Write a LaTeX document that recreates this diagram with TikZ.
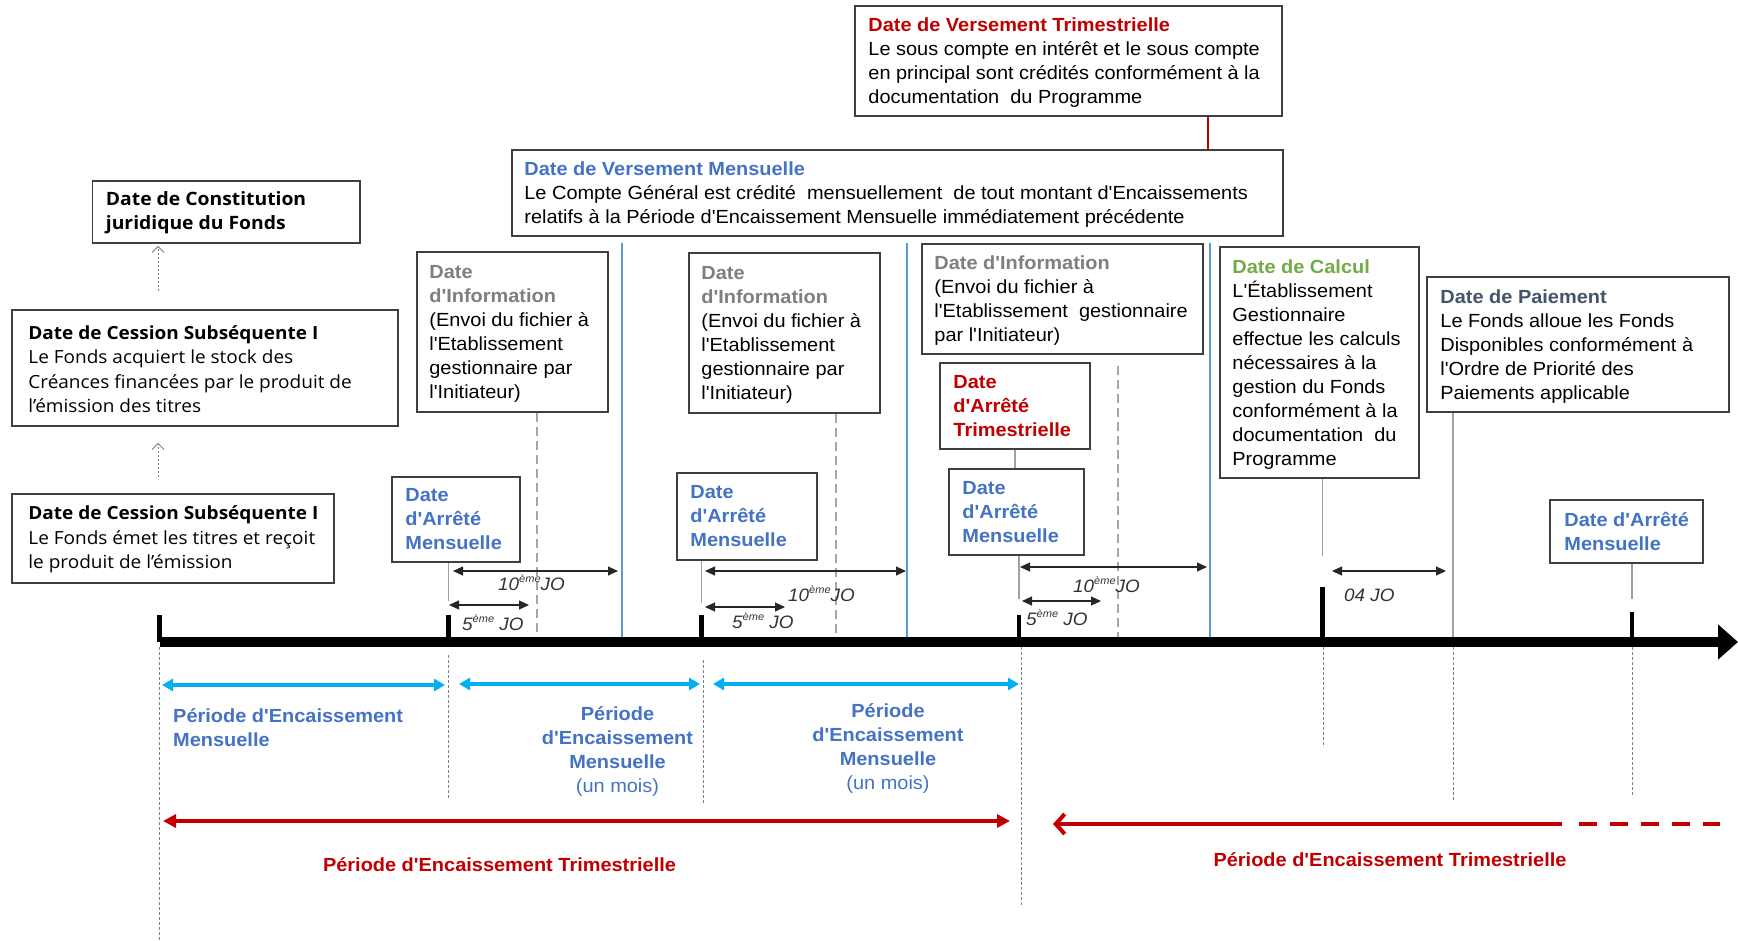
\documentclass[tikz,border=0pt]{standalone}
\usepackage{fontspec}
\setmainfont{Liberation Sans}[FakeStretch=1.05,Ligatures=TeXOff]
\newfontfamily\geofont{Open Sans}[FakeStretch=1.05]
\usetikzlibrary{arrows.meta,calc}

\definecolor{framegray}{HTML}{3F3F3F}
\definecolor{accblue}{HTML}{4472C4}
\definecolor{accred}{HTML}{C00000}
\definecolor{accgreen}{HTML}{70AD47}
\definecolor{accgray}{HTML}{7F7F7F}
\definecolor{slate}{HTML}{44546A}
\definecolor{cyanline}{HTML}{00B0F0}
\definecolor{ruleblue}{HTML}{5B9BD5}
\definecolor{conngray}{HTML}{A0A0A0}
\definecolor{dashgray}{HTML}{A6A6A6}
\definecolor{guidegray}{HTML}{808080}

% raised ordinal suffix
\newcommand\ordx[1]{\raisebox{0.42em}{\fontsize{10.5}{10.5}\selectfont #1}}

\begin{document}
\begin{tikzpicture}[x=1pt,y=-1pt,
  panel/.style={draw=framegray,line width=1.6pt,fill=white,inner sep=0pt},
  txt/.style={anchor=west,inner sep=0pt,align=left,yshift=-2pt,font=\fontsize{19}{24}\selectfont},
  txtb/.style={anchor=west,inner sep=0pt,align=left,font=\fontsize{19}{24}\selectfont\bfseries},
  geotxt/.style={anchor=west,inner sep=0pt,align=left,yshift=-1pt,font=\geofont\fontsize{18.1}{24.5}\selectfont},
  conn/.style={draw=conngray,line width=1.3pt},
  infodash/.style={draw=dashgray,line width=2pt,dash pattern=on 9pt off 5pt},
  bluerule/.style={draw=ruleblue,line width=2pt},
  guideline/.style={draw=guidegray,line width=1pt,dash pattern=on 2.5pt off 2.5pt},
  tickmark/.style={line width=4.5pt},
  measure/.style={draw=black!85,line width=1.2pt,{Triangle[length=10pt,width=9pt]}-{Triangle[length=10pt,width=9pt]}},
  dimlabel/.style={anchor=base west,inner sep=0pt,text=black!80,font=\fontsize{18}{18}\selectfont\itshape},
  monthly/.style={draw=cyanline,line width=3.5pt,{Triangle[length=11pt,width=12pt]}-{Triangle[length=11pt,width=12pt]}},
  quarter/.style={draw=accred,line width=4pt},
  lbl/.style={inner sep=0pt,align=left,text=accblue,font=\fontsize{19}{24}\selectfont\bfseries},
  redlbl/.style={inner sep=0pt,text=accred,font=\fontsize{19}{24}\selectfont\bfseries},
  dotarrow/.style={draw=guidegray,line width=1pt,dash pattern=on 2pt off 2pt,-{Straight Barb[length=6pt,width=12pt]}}
]
\useasboundingbox (0,0) rectangle (1738,940);

% ---------- boxes ----------
\node[panel,minimum width=427pt,minimum height=110pt] (vtri) at (1068.5,61) {};
\node[txt] (vtri-t) at ([xshift=14pt]vtri.west) {\textbf{\color{accred}Date de Versement Trimestrielle}\\Le sous compte en intérêt et le sous compte\\en principal sont crédités conformément à la\\documentation\ \ du Programme};

\node[panel,minimum width=771pt,minimum height=86pt] (vmen) at (897.5,193) {};
\node[txt] (vmen-t) at ([xshift=13pt]vmen.west) {\textbf{\color{accblue}Date de Versement Mensuelle}\\Le Compte Général est crédité\ \ mensuellement\ \ de tout montant d'Encaissements\\relatifs à la Période d'Encaissement Mensuelle immédiatement précédente};

\node[panel,minimum width=267.5pt,minimum height=62pt] (const) at (226.25,212) {};
\node[geotxt,font=\geofont\bfseries\fontsize{18.4}{24.3}\selectfont] (const-t) at ([xshift=14pt]const.west) {Date de Constitution\\juridique du Fonds};

\node[panel,minimum width=386pt,minimum height=116pt] (cess1) at (205,368) {};
\node[geotxt] (cess1-t) at ([xshift=17pt]cess1.west) {\textbf{Date de Cession Subséquente I}\\Le Fonds acquiert le stock des\\Créances financées par le produit de\\l’émission des titres};

\node[panel,minimum width=322pt,minimum height=89pt] (cess2) at (173,538.5) {};
\node[geotxt] (cess2-t) at ([xshift=17pt]cess2.west) {\textbf{Date de Cession Subséquente I}\\Le Fonds émet les titres et reçoit\\le produit de l’émission};

\node[panel,minimum width=191pt,minimum height=160pt] (info1) at (512.5,332) {};
\node[txt] (info1-t) at ([xshift=13pt]info1.west) {\textbf{\color{accgray}Date}\\\textbf{\color{accgray}d'Information}\\(Envoi du fichier à\\l'Etablissement\\gestionnaire par\\l'Initiateur)};

\node[panel,minimum width=191pt,minimum height=160pt] (info2) at (784.5,333) {};
\node[txt] (info2-t) at ([xshift=13pt]info2.west) {\textbf{\color{accgray}Date}\\\textbf{\color{accgray}d'Information}\\(Envoi du fichier à\\l'Etablissement\\gestionnaire par\\l'Initiateur)};

\node[panel,minimum width=281pt,minimum height=110pt] (info3) at (1062.5,299) {};
\node[txt] (info3-t) at ([xshift=13pt]info3.west) {\textbf{\color{accgray}Date d'Information}\\(Envoi du fichier à\\l'Etablissement\ \ gestionnaire\\par l'Initiateur)};

\node[panel,minimum width=199pt,minimum height=231pt] (calc) at (1319.5,362.5) {};
\node[txt] (calc-t) at ([xshift=13pt]calc.west) {\textbf{\color{accgreen}Date de Calcul}\\L'Établissement\\Gestionnaire\\effectue les calculs\\nécessaires à la\\gestion du Fonds\\conformément à la\\documentation\ \ du\\Programme};

\node[panel,minimum width=302pt,minimum height=135pt] (paie) at (1578,344.5) {};
\node[txt] (paie-t) at ([xshift=14pt]paie.west) {\textbf{\color{slate}Date de Paiement}\\Le Fonds alloue les Fonds\\Disponibles conformément à\\l'Ordre de Priorité des\\Paiements applicable};

\node[panel,minimum width=150pt,minimum height=86pt] (art) at (1015,406) {};
\node[txtb,text=accred] (art-t) at ([xshift=14pt]art.west) {Date\\d'Arrêté\\Trimestrielle};

\node[panel,minimum width=128pt,minimum height=85pt] (arm1) at (456,519.5) {};
\node[txtb,text=accblue] (arm1-t) at ([xshift=14pt]arm1.west) {Date\\d'Arrêté\\Mensuelle};

\node[panel,minimum width=140pt,minimum height=87pt] (arm2) at (747,516.5) {};
\node[txtb,text=accblue] (arm2-t) at ([xshift=14pt]arm2.west) {Date\\d'Arrêté\\Mensuelle};

\node[panel,minimum width=135pt,minimum height=86pt] (arm3) at (1016.5,512) {};
\node[txtb,text=accblue] (arm3-t) at ([xshift=14pt]arm3.west) {Date\\d'Arrêté\\Mensuelle};

\node[panel,minimum width=153pt,minimum height=63pt] (arm4) at (1626.5,531.5) {};
\node[txtb,text=accblue] (arm4-t) at ([xshift=15pt]arm4.west) {Date d'Arrêté\\Mensuelle};

% ---------- timeline positions ----------
\coordinate (t0) at (159.5,642);
\coordinate (t1) at (448.5,642);
\coordinate (t2) at (701.5,642);
\coordinate (t3) at (1019,642);
\coordinate (t4) at (1322.5,642);
\coordinate (t5) at (1632,642);
\coordinate (tp) at (1453,638);
\coordinate (axend) at (1738,642);
\coordinate (d1) at (537,637);
\coordinate (d2) at (836,637);
\coordinate (d3) at (1118,637);
\coordinate (rx) at (1208,0);
\coordinate (lx) at (158,0);

% ---------- connectors from boxes ----------
\draw[accred,line width=2pt] (vtri.south -| rx) -- (vmen.north -| rx);
\draw[dotarrow,shorten >=2pt] (cess1.north -| lx) ++(0,-18) -- (const.south -| lx);
\draw[dotarrow,shorten >=16pt] (cess2.north -| lx) ++(0,-16) -- (cess1.south -| lx);
\draw[conn] (arm1.south -| t1) -- ++(0,38);
\draw[conn] (arm2.south -| t2) -- ++(0,42);
\draw[conn] (arm3.south -| t3) -- ++(0,43);
\draw[conn] (calc.south -| t4) -- ++(0,77);
\draw[conn] (paie.south -| tp) -- (tp);
\draw[conn] (arm4.south -| t5) -- ++(0,35);
\draw[conn] (art.south) -- (art.south |- arm3.north);
\draw[infodash] (info1.south -| d1) -- (d1);
\draw[infodash] (info2.south -| d2) -- (d2);
\path (info3.south -| d3) ++(0,11) coordinate (d3top);
\draw[infodash] (d3top) -- (d3);

% ---------- monthly payment separators ----------
\draw[bluerule] (622,243) -- (622,645);
\draw[bluerule] (907,243) -- (907,645);
\draw[bluerule] (1209.5,243) -- (1209.5,645);

% ---------- guides below the axis ----------
\draw[guideline] (159,647) -- (159,940);
\draw[guideline] (448,655) -- (448,798);
\draw[guideline] (703,660) -- (703,803);
\draw[guideline] (1021,647) -- (1021,906);
\draw[guideline] (1323,647) -- (1323,747);
\draw[guideline] (1453,647) -- (1453,802);
\draw[guideline] (1632,647) -- (1632,797);

% ---------- axis and ticks ----------
\draw[line width=10pt,-{Triangle[length=20pt,width=34pt]}] (t0) -- (axend);
\draw[tickmark] (t0) -- ++(0,-27);
\draw[tickmark] (t1) -- ++(0,-27);
\draw[tickmark] (t2) -- ++(0,-27);
\draw[tickmark] (t3) -- ++(0,-27);
\draw[tickmark] (t4) -- ++(0,-55);
\draw[tickmark] (t5) -- ++(0,-30);

% ---------- business-day intervals ----------
\draw[measure] (453,571) -- (618,571);
\node[dimlabel] (j10a) at (498,590) {10\ordx{ème}JO};
\draw[measure] (449,605) -- (529,605);
\node[dimlabel] (j5a) at (462,630) {5\ordx{ème} JO};
\draw[measure] (705,571) -- (906,571);
\node[dimlabel] (j10b) at (788,601) {10\ordx{ème}JO};
\draw[measure] (705,607) -- (785,607);
\node[dimlabel] (j5b) at (732,628) {5\ordx{ème} JO};
\draw[measure] (1020,567) -- (1207,567);
\node[dimlabel] (j10c) at (1073,592) {10\ordx{ème}JO};
\draw[measure] (1022,601) -- (1101,601);
\node[dimlabel] (j5c) at (1026,625) {5\ordx{ème} JO};
\draw[measure] (1332,571) -- (1446,571);
\node[dimlabel] (j04) at (1344,601) {04 JO};

% ---------- monthly collection periods ----------
\draw[monthly] (162,685) -- (445,685);
\draw[monthly] (459,684) -- (700,684);
\draw[monthly] (713,684) -- (1019,684);
\node[lbl,anchor=west] (pm1) at (173,728) {Période d'Encaissement\\Mensuelle};
\node[lbl,align=center] (pm2) at (617.5,751.5) {Période\\d'Encaissement\\Mensuelle\\{\mdseries (un mois)}};
\node[lbl,align=center] (pm3) at (888,748) {Période\\d'Encaissement\\Mensuelle\\{\mdseries (un mois)}};

% ---------- quarterly collection periods ----------
\draw[quarter,{Triangle[length=13pt,width=13pt]}-{Triangle[length=13pt,width=13pt]}] (163,821) -- (1010,821);
\node[redlbl] (pt1) at (499.5,865) {Période d'Encaissement Trimestrielle};
\draw[quarter,{Straight Barb[length=9pt,width=20pt]}-] (1053,824) -- (1562,824);
\draw[quarter,dash pattern=on 18pt off 13pt] (1579,824) -- (1720,824);
\node[redlbl] (pt2) at (1390,860) {Période d'Encaissement Trimestrielle};
\end{tikzpicture}
\end{document}
